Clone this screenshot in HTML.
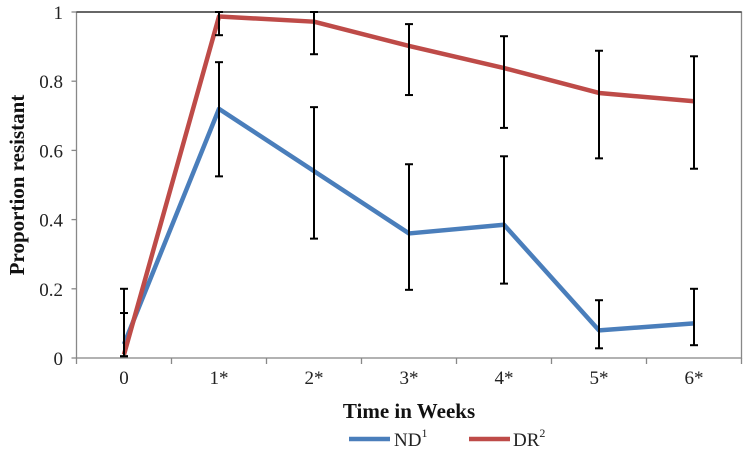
<!DOCTYPE html>
<html><head><meta charset="utf-8"><style>
body{margin:0;background:#fff}
svg{display:block;font-family:"Liberation Serif",serif}
</style></head><body>
<svg id="chart" width="748" height="468"></svg>
<script>
const categories=["0","1*","2*","3*","4*","5*","6*"];
const ndValues=[0.04,0.72,0.54,0.36,0.385,0.08,0.10];
const ndLow=[0.005,0.525,0.345,0.197,0.215,0.028,0.037];
const ndHigh=[0.13,0.855,0.725,0.56,0.583,0.167,0.2];
const drValues=[0.01,0.987,0.972,0.902,0.838,0.766,0.742];
const drLow=[0.005,0.933,0.878,0.76,0.665,0.577,0.547];
const drHigh=[0.2,1.0,1.0,0.965,0.93,0.888,0.872];
const yTicks=[0,0.2,0.4,0.6,0.8,1];
const yTickLabels=["0","0.2","0.4","0.6","0.8","1"];

const L=76.5,R=741.5,T=12,B=358;
const step=(R-L)/categories.length;
const x=i=>L+step*(i+0.5);
const y=v=>B-(B-T)*v;
const svg=document.getElementById('chart');
const NS='http://www.w3.org/2000/svg';
function mk(tag,attrs,parent){const e=document.createElementNS(NS,tag);for(const k in attrs)e.setAttribute(k,attrs[k]);(parent||svg).appendChild(e);return e;}

let f=mk('rect',{x:L,y:T,width:R-L,height:B-T,fill:'none',stroke:'#888','stroke-width':1.3});


let tl=mk('line',{x1:L,x2:R,y1:T,y2:T,stroke:'#222','stroke-width':1.3});



yTicks.forEach((v,i)=>{
  const t=mk('line',{x1:L-5,x2:L,y1:y(v),y2:y(v),stroke:'#888','stroke-width':1.3});
  
  
  const lb=mk('text',{x:63,y:y(v)+7,'text-anchor':'end','font-size':19,fill:'#222'});
  lb.textContent=yTickLabels[i];
  
  
});
for(let i=0;i<=categories.length;i++){
  const t=mk('line',{x1:L+step*i,x2:L+step*i,y1:B,y2:B+6,stroke:'#888','stroke-width':1.3});
  
  
}
categories.forEach((c,i)=>{
  const lb=mk('text',{x:x(i),y:384,'text-anchor':'middle','font-size':19,fill:'#222'});
  lb.textContent=c;
  
  
});

function series(vals,lo,hi,color,name){
  const pts=vals.map((v,i)=>x(i)+','+y(v)).join(' ');
  const p=mk('polyline',{points:pts,fill:'none',stroke:color,'stroke-width':4.5,'stroke-linejoin':'round'});
  
  
  vals.forEach((v,i)=>{
    const g=mk('g',{stroke:'#000','stroke-width':2});
    
    
    mk('line',{x1:x(i),x2:x(i),y1:y(lo[i]),y2:y(hi[i])},g);
    mk('line',{x1:x(i)-4,x2:x(i)+4,y1:y(lo[i]),y2:y(lo[i])},g);
    mk('line',{x1:x(i)-4,x2:x(i)+4,y1:y(hi[i]),y2:y(hi[i])},g);
  });
}
series(ndValues,ndLow,ndHigh,'#4a7ebb','nd');
series(drValues,drLow,drHigh,'#be4b48','dr');
</script>
<div style="position:absolute;left:0;top:0;width:748px;height:468px;pointer-events:none">
<svg width="748" height="468" style="position:absolute;left:0;top:0;font-family:'Liberation Serif',serif">
<text x="17" y="185" transform="rotate(-90 17 185)" dy="7" text-anchor="middle" font-size="21" font-weight="bold" fill="#111">Proportion resistant</text>
<text x="409" y="418" text-anchor="middle" font-size="21" font-weight="bold" fill="#111">Time in Weeks</text>
<g>
<line x1="349" x2="390" y1="439" y2="439" stroke="#4a7ebb" stroke-width="4.5"/>
<text x="394" y="446" font-size="19" fill="#222">ND<tspan font-size="12" dy="-9">1</tspan></text>
</g>
<g>
<line x1="469" x2="510" y1="439" y2="439" stroke="#be4b48" stroke-width="4.5"/>
<text x="513" y="446" font-size="19" fill="#222">DR<tspan font-size="12" dy="-9">2</tspan></text>
</g>
</svg></div>
</body></html>
